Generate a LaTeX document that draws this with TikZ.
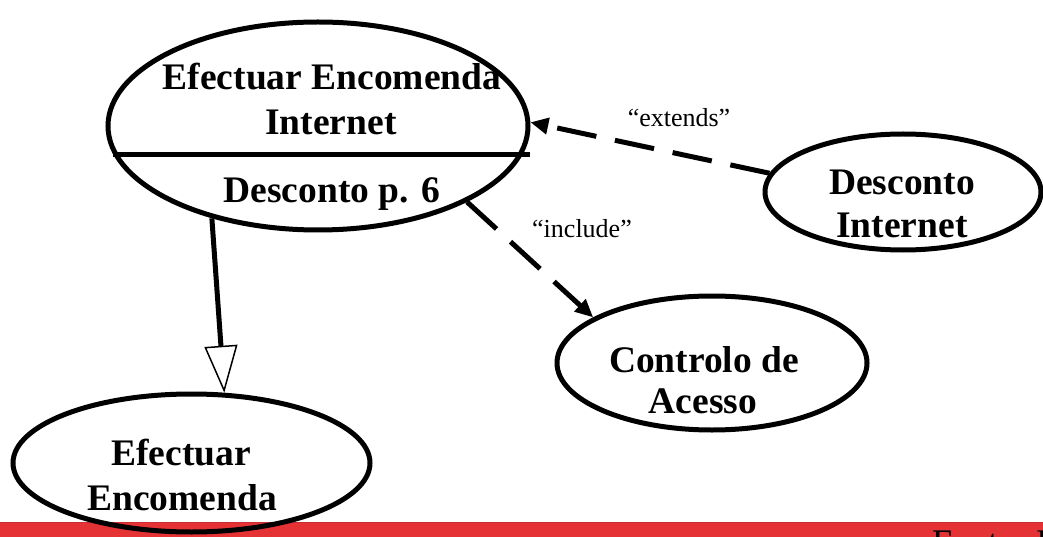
\documentclass[tikz,border=0pt]{standalone}
\usepackage{fontspec}
\setmainfont{Liberation Serif}
\usetikzlibrary{arrows.meta,shapes.geometric}
\definecolor{bandred}{RGB}{229,50,52}
\definecolor{bandedge}{RGB}{200,45,50}
\begin{document}
\begin{tikzpicture}[x=1pt,y=-1pt,
  uc/.style={ellipse, draw, line width=5pt, inner sep=0pt},
  lbl/.style={font=\fontsize{37.5}{43}\selectfont\bfseries, inner sep=0pt, anchor=base},
  note/.style={font=\fontsize{26}{30}\selectfont, inner sep=0pt, anchor=base},
  dep/.style={line width=5pt, dash pattern=on 40pt off 19pt, -{Triangle[length=18pt,width=16pt]}},
  gen/.style={line width=5pt, -{Triangle[open,length=47pt,width=33pt,line width=1.5pt 0 1]}}
]
\useasboundingbox (0,0) rectangle (1043,537);
\clip (0,0) rectangle (1043,537);
\fill[bandred] (0,522) rectangle (1043,537);
\draw[bandedge, line width=1pt] (0,522.5) -- (1043,522.5);
\node[font=\fontsize{36}{40}\selectfont, anchor=base west, inner sep=0pt] (src) at (932,554) {Fonte: I};

\node[uc, minimum width=420pt, minimum height=208pt] (eei) at (318,126) {};
\node[uc, minimum width=276pt, minimum height=116pt] (di) at (903,192) {};
\node[uc, minimum width=310pt, minimum height=134pt] (ca) at (712,363) {};
\node[uc, minimum width=357pt, minimum height=138pt] (ee) at (191.5,463) {};

\coordinate (divR) at (530,156);
\draw[line width=5pt] (eei.188.5) -- (eei.188.5 -| divR);

\node[lbl] (t1a) at (332,90) {Efectuar Encomenda};
\node[lbl] (t1b) at (331,135) {Internet};
\node[lbl] (t1c) at (332,203) {Desconto p. 6};
\node[lbl] (t2a) at (902,195) {Desconto};
\node[lbl] (t2b) at (902,237) {Internet};
\node[lbl] (t3a) at (704,372) {Controlo de};
\node[lbl] (t3b) at (703,413) {Acesso};
\node[lbl] (t4a) at (181,465) {Efectuar};
\node[lbl] (t4b) at (182,510) {Encomenda};

\node[note] (lx) at (679,127) {``extends''};
\node[note] (li) at (582,238) {``include''};

\draw[gen] (eei.-139.7) -- (ee.65.8);
\draw[dep] (eei.-27) -- (ca.159);
\draw[dep] (di.172.7) -- (eei.1);
\end{tikzpicture}
\end{document}
